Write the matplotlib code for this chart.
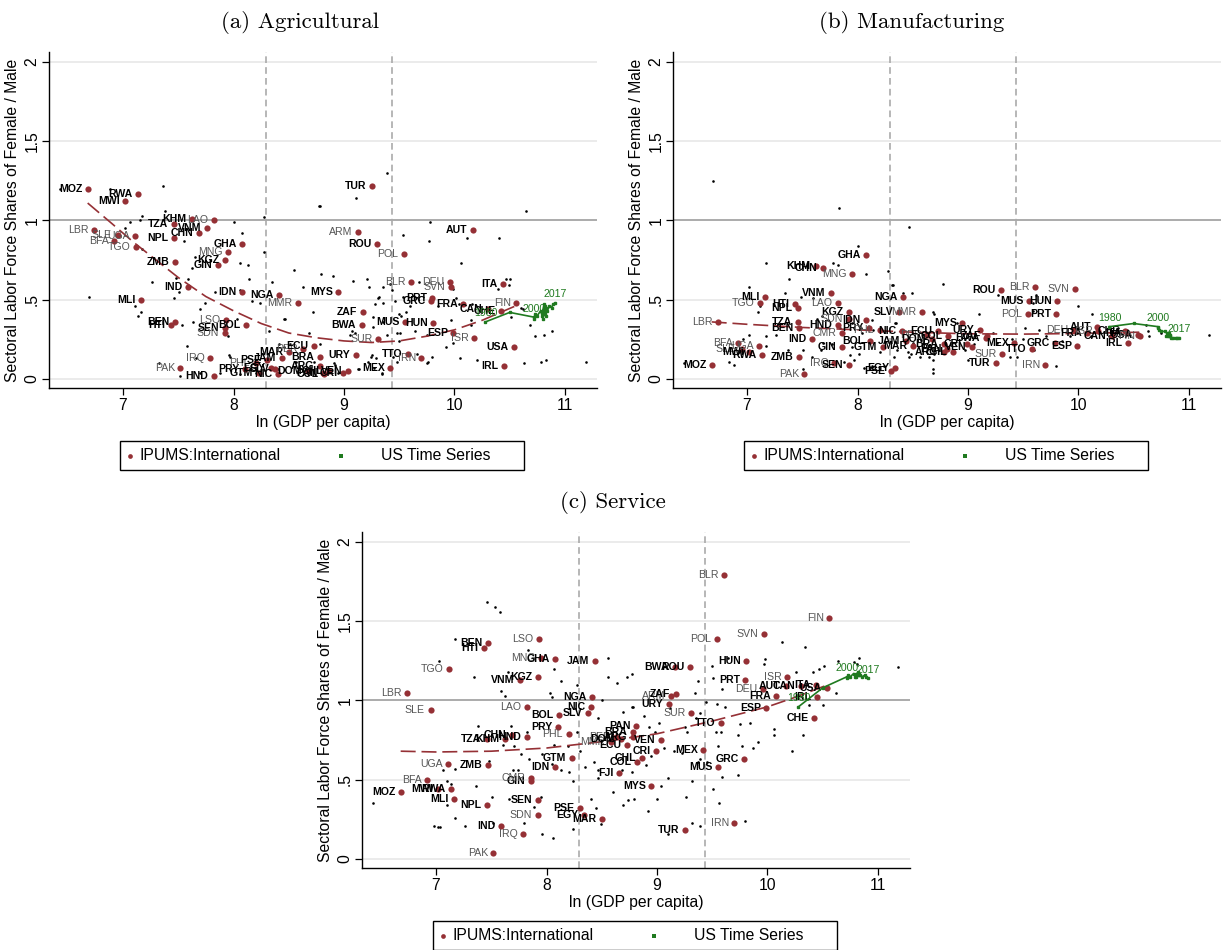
import matplotlib.pyplot as plt
import matplotlib.patches as mpatches
import numpy as np

plt.rcParams['font.family'] = ['Liberation Sans', 'DejaVu Sans']

nan = float('nan')

# IPUMS countries: code, ln GDP per capita, sector ratios (agr / man / ser)
codes = ['MOZ', 'LBR', 'BFA', 'SLE', 'MWI', 'UGA', 'TGO', 'RWA', 'MLI', 'HTI',
         'TZA', 'NPL', 'BEN', 'ZMB', 'PAK', 'IND', 'KHM', 'CHN', 'VNM', 'IRQ',
         'LAO', 'HND', 'GIN', 'CMR', 'KGZ', 'SEN', 'SDN', 'LSO', 'MNG', 'GHA',
         'IDN', 'PRY', 'BOL', 'PHL', 'GTM', 'PSE', 'EGY', 'SLV', 'NIC', 'NGA',
         'JAM', 'MAR', 'MMR', 'PER', 'DOM', 'FJI', 'ECU', 'BRA', 'ARG', 'PAN',
         'COL', 'CHL', 'MYS', 'CRI', 'VEN', 'URY', 'ARM', 'BWA', 'ZAF', 'TUR',
         'ROU', 'SUR', 'MEX', 'POL', 'MUS', 'TTO', 'BLR', 'IRN', 'GRC', 'PRT',
         'HUN', 'DEU', 'SVN', 'ESP', 'FRA', 'AUT', 'ISR', 'CAN', 'CHE', 'ITA',
         'IRL', 'USA', 'FIN']
gdp = [6.68, 6.74, 6.92, 6.95, 7.02, 7.11, 7.12, 7.14, 7.16, 7.43,
       7.46, 7.46, 7.47, 7.47, 7.52, 7.59, 7.62, 7.69, 7.76, 7.79,
       7.82, 7.82, 7.86, 7.86, 7.92, 7.92, 7.92, 7.93, 7.95, 8.08,
       8.08, 8.10, 8.11, 8.20, 8.23, 8.30, 8.34, 8.38, 8.40, 8.41,
       8.44, 8.50, 8.58, 8.63, 8.67, 8.66, 8.73, 8.78, 8.78, 8.81,
       8.82, 8.86, 8.95, 8.99, 9.04, 9.11, 9.13, 9.16, 9.17, 9.25,
       9.30, 9.31, 9.42, 9.54, 9.55, 9.58, 9.61, 9.70, 9.79, 9.80,
       9.81, 9.96, 9.97, 9.99, 10.08, 10.17, 10.18, 10.30, 10.42, 10.44,
       10.45, 10.54, 10.56]
agr = [1.20, 0.94, 0.87, 0.91, 1.12, 0.90, 0.83, 1.17, 0.50, 0.34,
       0.98, 0.89, 0.36, 0.74, 0.07, 0.58, 1.01, 0.92, 0.95, 0.13,
       1.00, 0.02, 0.72, nan, 0.75, 0.32, 0.29, 0.37, 0.80, 0.85,
       0.55, 0.06, 0.34, 0.10, 0.04, 0.12, 0.07, 0.06, 0.03, 0.53,
       0.13, 0.17, 0.48, 0.19, 0.05, nan, 0.21, 0.14, 0.08, 0.04,
       0.03, 0.05, 0.55, 0.04, 0.05, 0.15, 0.93, 0.34, 0.42, 1.22,
       0.85, 0.25, 0.07, 0.79, 0.36, 0.16, 0.61, 0.13, 0.49, 0.51,
       0.35, 0.61, 0.58, 0.29, 0.47, 0.94, 0.26, 0.44, 0.43, 0.60,
       0.08, 0.20, 0.48]
man = [0.09, 0.36, 0.23, 0.19, 0.17, 0.21, 0.48, 0.15, 0.52, 0.47,
       0.36, 0.45, 0.32, 0.14, 0.03, 0.25, 0.71, 0.70, 0.54, 0.10,
       0.48, 0.34, 0.20, 0.29, 0.42, 0.09, 0.38, nan, 0.66, 0.78,
       0.37, 0.32, 0.24, 0.31, 0.20, 0.05, 0.07, 0.42, 0.30, 0.52,
       0.24, 0.21, 0.42, 0.28, 0.25, nan, 0.30, 0.22, 0.17, 0.19,
       0.27, 0.17, 0.35, 0.22, 0.20, 0.31, nan, 0.26, 0.27, 0.10,
       0.56, 0.16, 0.23, 0.41, 0.49, 0.19, 0.58, 0.09, 0.23, 0.41,
       0.49, 0.31, 0.57, 0.21, 0.29, 0.33, 0.30, 0.27, 0.30, 0.29,
       0.23, 0.28, 0.27]
ser = [0.42, 1.05, 0.50, 0.94, 0.44, 0.60, 1.20, 0.44, 0.38, 1.33,
       0.76, 0.34, 1.36, 0.59, 0.04, 0.21, 0.76, 0.78, 1.13, 0.16,
       0.96, 0.77, 0.49, 0.51, 1.15, 0.37, 0.28, 1.39, 1.27, 1.26,
       0.58, 0.83, 0.91, 0.79, 0.64, 0.32, 0.28, 0.92, 0.96, 1.02,
       1.25, 0.25, 0.74, 0.77, 0.76, 0.54, 0.72, 0.80, 0.77, 0.84,
       0.61, 0.64, 0.46, 0.68, 0.75, 0.98, 1.03, 1.21, 1.04, 0.18,
       1.21, 0.92, 0.69, 1.39, 0.58, 0.86, 1.79, 0.23, 0.63, 1.13,
       1.25, 1.07, 1.42, 0.95, 1.03, 1.09, 1.15, 1.09, 0.89, 1.10,
       1.02, 1.08, 1.52]
plain_codes = ['LBR', 'SLE', 'UGA', 'BFA', 'TGO', 'LAO', 'MNG', 'MMR', 'LSO', 'SDN',
               'IRQ', 'PAK', 'PHL', 'CMR', 'ARM', 'POL', 'BLR', 'DEU', 'SVN', 'FIN',
               'ISR', 'SUR', 'IRN', 'PER']

# other (unlabelled) observations
agr_dots = [(6.43, 1.20), (6.88, 1.20), (7.36, 1.22), (7.38, 1.06), (7.17, 1.03), (7.15, 1.00),
            (7.06, 0.99), (7.02, 0.95), (7.55, 0.87), (7.17, 0.82), (8.00, 0.99), (8.08, 0.92),
            (8.28, 1.02), (8.28, 0.80), (7.65, 0.77), (7.62, 0.70), (8.06, 0.73), (8.13, 0.72),
            (8.14, 0.63), (8.77, 1.09), (8.55, 0.69), (8.79, 0.66), (8.90, 0.65), (8.35, 0.61),
            (8.63, 0.58), (8.72, 0.42), (8.47, 0.38), (6.69, 0.52), (7.26, 0.61), (7.48, 0.64),
            (7.59, 0.63), (7.51, 0.55), (7.46, 0.51), (7.11, 0.46), (7.16, 0.42), (7.14, 0.40),
            (7.74, 0.48), (7.70, 0.44), (7.83, 0.55), (8.06, 0.56), (8.17, 0.49), (8.24, 0.48),
            (7.63, 0.36), (7.53, 0.34), (7.95, 0.27), (8.03, 0.38), (8.32, 0.30), (7.58, 0.21),
            (7.66, 0.13), (7.97, 0.14), (7.33, 0.10), (7.52, 0.02), (7.70, 0.04), (8.41, 0.22),
            (9.08, 0.62), (9.21, 0.63), (9.42, 0.60), (9.43, 0.56), (9.31, 0.51), (10.06, 0.73),
            (9.35, 0.48), (9.28, 0.47), (9.53, 0.52), (9.56, 0.42), (9.52, 0.40), (10.01, 0.51),
            (10.04, 0.47), (10.39, 0.57), (10.49, 0.59), (10.47, 0.63), (10.60, 0.45), (10.51, 0.39),
            (10.68, 0.34), (10.88, 0.30), (10.73, 0.27), (10.81, 0.28), (9.92, 0.20), (10.05, 0.13),
            (10.20, 0.12), (9.80, 0.14), (9.76, 0.11), (10.63, 0.10), (10.78, 0.11), (10.83, 0.12),
            (11.19, 0.11), (9.66, 0.16), (9.29, 0.13), (9.25, 0.15), (9.27, 0.07), (9.34, 0.03),
            (9.13, 0.06), (9.22, 0.11), (8.92, 0.09), (8.73, 0.11), (8.68, 0.29), (9.07, 0.30),
            (8.46, 0.38), (9.26, 0.33), (9.48, 0.29), (9.50, 0.24), (9.64, 0.30), (9.75, 0.28),
            (9.99, 0.23), (10.15, 0.34), (9.39, 1.30), (9.11, 1.14), (8.78, 1.09), (10.65, 1.06),
            (9.78, 0.99), (9.53, 0.91), (10.11, 0.89), (10.40, 0.89), (9.77, 0.87), (9.68, 0.61),
            (9.99, 0.57), (10.50, 0.63), (9.46, 0.49), (9.60, 0.46), (9.85, 0.46), (10.16, 0.47),
            (10.62, 0.44), (9.26, 0.39), (9.35, 0.36), (9.50, 0.41), (9.97, 0.37), (10.15, 0.37),
            (9.23, 0.58), (9.35, 0.58), (9.32, 0.52), (8.57, 0.11), (8.63, 0.18), (8.95, 0.04),
            (8.91, 0.10), (9.14, 0.06), (9.24, 0.14), (9.34, 0.04), (9.44, 0.14), (9.48, 0.11),
            (9.75, 0.10), (7.96, 0.15), (8.06, 0.03), (7.88, 0.04), (8.46, 0.20), (8.51, 0.22),
            (8.40, 0.06), (8.20, 0.04), (8.78, 0.22), (8.85, 0.04), (9.05, 0.28), (9.10, 0.29),
            (9.39, 0.28), (9.51, 0.29)]
man_dots = [(6.69, 1.25), (7.83, 1.08), (8.47, 0.96), (8.00, 0.84), (7.17, 0.73), (7.78, 0.73),
            (7.82, 0.72), (8.08, 0.66), (7.38, 0.63), (8.28, 0.68), (8.31, 0.59), (7.02, 0.58),
            (7.34, 0.54), (7.49, 0.52), (7.60, 0.51), (7.12, 0.46), (7.10, 0.42), (8.41, 0.54),
            (8.49, 0.54), (8.69, 0.41), (7.63, 0.38), (7.73, 0.37), (7.68, 0.40), (7.84, 0.32),
            (7.95, 0.35), (8.03, 0.32), (8.13, 0.37), (8.14, 0.31), (8.04, 0.29), (8.35, 0.35),
            (8.50, 0.23), (8.36, 0.18), (8.33, 0.14), (8.46, 0.17), (8.47, 0.14), (8.59, 0.23),
            (8.57, 0.14), (8.65, 0.14), (8.68, 0.04), (8.69, 0.16), (8.24, 0.08), (8.20, 0.17),
            (7.93, 0.15), (7.97, 0.12), (8.01, 0.16), (7.95, 0.20), (7.77, 0.22), (7.69, 0.23),
            (7.67, 0.18), (7.51, 0.18), (7.37, 0.18), (7.26, 0.28), (7.17, 0.27), (7.17, 0.21),
            (7.02, 0.28), (6.96, 0.25), (6.84, 0.11), (6.88, 0.09), (6.43, 0.10), (7.51, 0.06),
            (7.59, 0.14), (8.06, 0.07), (8.13, 0.08), (7.88, 0.11), (8.77, 0.60), (8.32, 0.59),
            (9.27, 0.53), (9.62, 0.53), (9.59, 0.48), (10.00, 0.46), (9.59, 0.43), (8.68, 0.42),
            (9.10, 0.41), (10.12, 0.41), (8.34, 0.35), (8.90, 0.35), (9.52, 0.32), (9.23, 0.29),
            (9.64, 0.31), (9.71, 0.27), (9.40, 0.25), (9.26, 0.23), (9.50, 0.25), (9.05, 0.22),
            (8.97, 0.18), (9.00, 0.12), (8.68, 0.06), (8.68, 0.12), (8.48, 0.16), (9.38, 0.14),
            (9.44, 0.14), (9.80, 0.08), (9.60, 0.18), (9.85, 0.24), (9.92, 0.27), (9.99, 0.29),
            (10.11, 0.27), (10.19, 0.29), (10.28, 0.27), (10.36, 0.32), (10.44, 0.31), (10.63, 0.30),
            (10.64, 0.27), (11.18, 0.28), (10.61, 0.34), (10.75, 0.29), (10.80, 0.27)]
ser_dots = [(6.43, 0.35), (7.03, 1.25), (7.17, 1.39), (7.46, 1.62), (7.53, 1.59), (7.58, 1.56),
            (7.34, 1.15), (7.65, 1.18), (7.83, 1.32), (7.59, 1.06), (7.62, 1.03), (7.38, 0.84),
            (7.68, 0.84), (7.82, 0.80), (7.61, 0.72), (7.71, 0.71), (7.77, 0.66), (7.84, 0.63),
            (7.48, 0.62), (7.06, 0.56), (7.17, 0.57), (7.36, 0.46), (7.10, 0.49), (7.14, 0.47),
            (6.98, 0.21), (7.02, 0.20), (7.04, 0.20), (7.17, 0.26), (7.26, 0.21), (7.10, 0.34),
            (7.51, 0.39), (7.66, 0.38), (7.70, 0.56), (7.74, 0.56), (7.89, 0.33), (7.95, 0.39),
            (7.80, 0.23), (7.96, 0.16), (8.06, 0.13), (7.52, 0.23), (8.03, 1.05), (8.05, 1.02),
            (8.07, 1.20), (8.13, 1.12), (8.28, 1.10), (8.50, 1.00), (8.56, 1.27), (8.56, 1.15),
            (8.64, 1.11), (8.73, 1.15), (8.77, 1.17), (8.69, 0.93), (8.77, 0.96), (8.47, 0.89),
            (8.28, 0.80), (8.07, 0.72), (8.19, 0.71), (8.30, 0.68), (7.96, 0.66), (8.05, 0.60),
            (8.13, 0.56), (8.20, 0.55), (8.24, 0.49), (8.35, 0.58), (8.43, 0.61), (8.47, 0.56),
            (8.47, 0.51), (8.60, 0.42), (8.68, 0.56), (8.77, 0.55), (8.69, 0.34), (8.74, 0.37),
            (8.79, 0.38), (8.40, 0.38), (8.45, 0.32), (8.49, 0.22), (8.24, 0.19), (9.37, 1.12),
            (9.34, 1.05), (9.50, 1.22), (9.51, 1.14), (9.59, 1.07), (9.64, 1.27), (9.98, 1.26),
            (9.97, 1.23), (10.13, 1.37), (10.34, 1.34), (10.26, 1.18), (10.41, 1.18), (10.47, 1.20),
            (10.51, 1.22), (10.64, 1.25), (10.78, 1.24), (10.83, 1.27), (10.81, 1.23), (11.18, 1.21),
            (10.62, 1.05), (10.50, 0.97), (10.38, 0.97), (10.32, 0.78), (10.22, 0.68), (10.06, 0.82),
            (10.06, 0.78), (9.91, 0.74), (9.87, 0.70), (9.84, 0.86), (9.75, 0.85), (9.73, 0.78),
            (9.77, 0.71), (9.62, 0.96), (9.54, 0.98), (9.44, 0.99), (9.39, 0.92), (9.35, 0.89),
            (9.53, 0.80), (9.58, 0.80), (9.55, 0.71), (9.25, 0.83), (9.27, 0.80), (9.23, 0.67),
            (9.15, 0.68), (9.06, 0.70), (8.98, 0.80), (9.02, 0.86), (8.93, 0.83), (8.88, 0.90),
            (9.12, 0.95), (8.78, 0.96), (9.39, 0.63), (9.37, 0.61), (9.45, 0.61), (9.59, 0.52),
            (9.73, 0.53), (9.32, 0.49), (9.10, 0.51), (9.04, 0.46), (9.00, 0.38), (9.26, 0.39),
            (9.51, 0.44), (9.56, 0.35), (8.92, 0.30), (9.32, 0.23), (9.39, 0.21), (9.80, 0.24),
            (9.10, 0.16), (8.90, 0.59), (8.95, 0.65)]

# fitted curves
agr_fit_x = [6.68, 6.9, 7.1, 7.3, 7.5, 7.75, 8.0, 8.25, 8.5, 8.75, 9.0, 9.25, 9.5, 9.75, 10.0, 10.25, 10.55]
agr_fit_y = [1.11, 0.98, 0.86, 0.75, 0.64, 0.52, 0.43, 0.35, 0.29, 0.26, 0.24, 0.23, 0.24, 0.27, 0.31, 0.37, 0.46]
man_fit_x = [6.68, 7.0, 7.5, 8.0, 8.5, 9.0, 9.5, 10.0, 10.55]
man_fit_y = [0.36, 0.345, 0.325, 0.31, 0.295, 0.285, 0.283, 0.287, 0.295]
ser_fit_x = [6.68, 7.0, 7.5, 8.0, 8.5, 9.0, 9.5, 10.0, 10.25, 10.55]
ser_fit_y = [0.68, 0.675, 0.68, 0.70, 0.74, 0.79, 0.87, 0.96, 1.02, 1.10]

# US time series
us_year = [1980, 1990, 2000, 2001, 2002, 2003, 2004, 2005, 2006, 2007, 2008,
           2009, 2010, 2011, 2012, 2013, 2014, 2015, 2016, 2017]
us_gdp = [10.28, 10.50, 10.72, 10.72, 10.73, 10.75, 10.78, 10.80, 10.82, 10.83, 10.82,
          10.79, 10.81, 10.82, 10.83, 10.84, 10.86, 10.88, 10.89, 10.91]
us_agr = [0.36, 0.42, 0.39, 0.38, 0.41, 0.40, 0.43, 0.38, 0.44, 0.40, 0.46,
          0.40, 0.47, 0.41, 0.45, 0.43, 0.46, 0.45, 0.47, 0.48]
us_man = [0.33, 0.35, 0.33, 0.32, 0.31, 0.30, 0.30, 0.29, 0.29, 0.28, 0.28,
          0.27, 0.27, 0.27, 0.27, 0.26, 0.26, 0.26, 0.26, 0.26]
us_ser = [0.96, 1.08, 1.15, 1.14, 1.16, 1.15, 1.17, 1.15, 1.17, 1.16, 1.18,
          1.15, 1.17, 1.16, 1.17, 1.16, 1.15, 1.16, 1.15, 1.14]

cutoffs = [8.29, 9.43]

RED = '#953035'
GREEN = '#1f7a1f'
TXT = 11.3

fig = plt.figure(figsize=(12.25, 9.5), dpi=100)
W, H = 1225, 950


def panel(left_px, bottom_px, ys, dots, fit_x, fit_y, us_y, title, title_xy):
    ax = fig.add_axes([left_px / W, 1 - bottom_px / H, 548 / W, 336 / H])
    ax.set_xlim(6.33, 11.29)
    ax.set_ylim(-0.057, 2.063)
    for v in [0, 0.5, 1.5, 2]:
        ax.axhline(v, color='#e8e8e8', lw=1.2, zorder=0)
    ax.axhline(1, color='#a5a5a5', lw=1.3, zorder=0.5)
    for v in cutoffs:
        ax.axvline(v, color='#aaaaaa', lw=1.2, dashes=(4, 2.5), zorder=0.5)

    dx, dy = zip(*dots)
    ax.scatter(dx, dy, s=3.5, color='black', lw=0, zorder=2)

    ax.plot(fit_x, fit_y, color=RED, lw=1.2, dashes=(9, 3.5), zorder=3)

    ax.scatter(gdp, ys, s=20, color=RED, lw=0, zorder=4)
    for c, x, y in zip(codes, gdp, ys):
        if np.isnan(y):
            continue
        plain = c in plain_codes
        ax.annotate(c, (x, y), xytext=(-4, 0), textcoords='offset points',
                    ha='right', va='center', fontsize=7.6,
                    fontweight='normal' if plain else 'bold',
                    color='#555555' if plain else 'black', zorder=5)

    ax.plot(us_gdp, us_y, color=GREEN, lw=1.2, marker='s', ms=1.8, zorder=6)
    for yr, x, y in zip(us_year, us_gdp, us_y):
        if yr in (1980, 2000, 2017):
            ax.annotate(str(yr), (x, y), xytext=(0, 2.5), textcoords='offset points',
                        ha='center', va='bottom', fontsize=7.6, color=GREEN, zorder=6)

    for s in ['top', 'right']:
        ax.spines[s].set_visible(False)
    for s in ['left', 'bottom']:
        ax.spines[s].set_linewidth(1.0)
    ax.set_xticks([7, 8, 9, 10, 11])
    ax.set_yticks([0, 0.5, 1, 1.5, 2])
    ax.set_yticklabels(['0', '.5', '1', '1.5', '2'], rotation=90, va='center')
    ax.tick_params(direction='out', length=5, width=0.9, labelsize=TXT, pad=2)
    ax.set_xlabel('ln (GDP per capita)', fontsize=TXT, va='center')
    ax.xaxis.set_label_coords(0.5, -0.104)
    ax.set_ylabel('Sectoral Labor Force Shares of Female / Male', fontsize=TXT, va='center')
    ax.yaxis.set_label_coords(-0.0675, 0.5)

    # legend box under the plot
    ly = -0.202
    ax.add_patch(mpatches.Rectangle((0.130, -0.244), 0.737, 0.086, transform=ax.transAxes,
                                    fill=False, ec='black', lw=1.0, clip_on=False))
    ax.plot([0.148], [ly], 'o', ms=3.4, color=RED, mew=0, transform=ax.transAxes, clip_on=False)
    ax.text(0.166, ly, 'IPUMS:International', transform=ax.transAxes, va='center', fontsize=TXT)
    ax.plot([0.533], [ly], 's', ms=2.4, color=GREEN, mew=0, transform=ax.transAxes, clip_on=False)
    ax.text(0.606, ly, 'US Time Series', transform=ax.transAxes, va='center', fontsize=TXT)

    fig.text(title_xy[0] / W, 1 - title_xy[1] / H, title, ha='center', va='center',
             fontsize=16.5, family='cmr10')
    return ax


panel(49, 388, agr, agr_dots, agr_fit_x, agr_fit_y, us_agr, '(a) Agricultural', (300, 23))
panel(673, 388, man, man_dots, man_fit_x, man_fit_y, us_man, '(b) Manufacturing', (912, 23))
panel(362, 868, ser, ser_dots, ser_fit_x, ser_fit_y, us_ser, '(c) Service', (613, 503))

fig.savefig('out.png', dpi=100)
